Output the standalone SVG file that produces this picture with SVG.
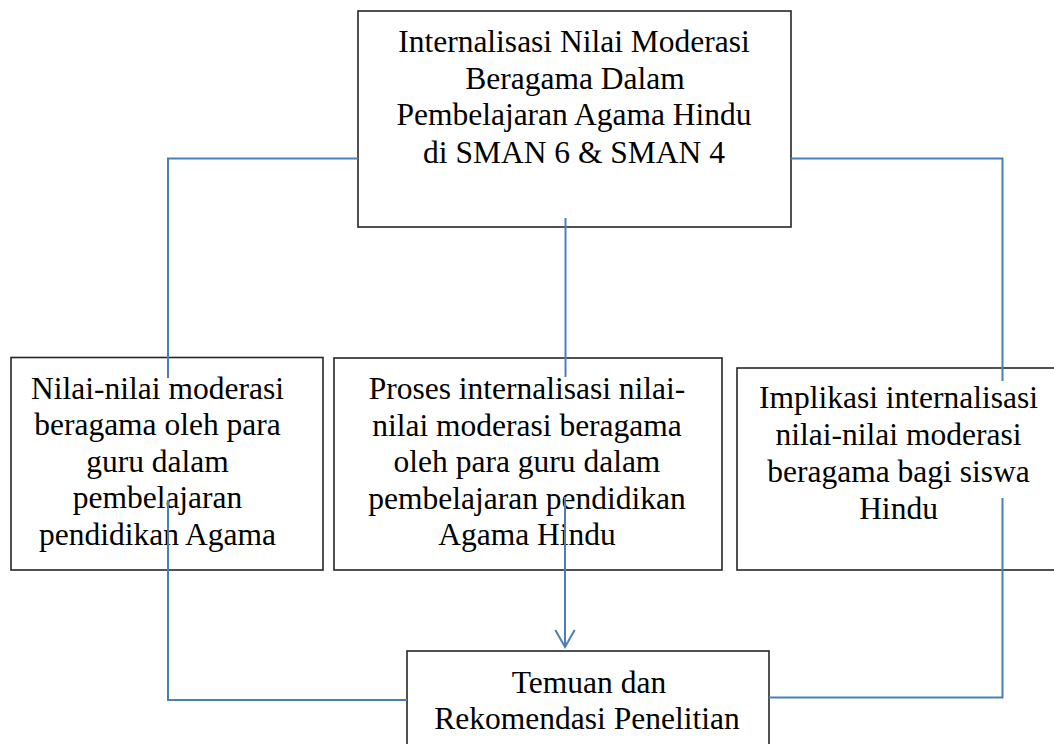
<svg xmlns="http://www.w3.org/2000/svg" width="1054" height="744" viewBox="0 0 1054 744">
<style>
.box{fill:#ffffff;stroke:#262626;stroke-width:1.6}
.t{font-family:"Liberation Serif","Times New Roman",serif;font-size:31.5px;fill:#000;text-anchor:middle}
.c{fill:none;stroke:#4A7EBB;stroke-width:2}
</style>
<defs>
<marker id="arr" viewBox="-19 -12 21 24" refX="0" refY="0" markerWidth="21" markerHeight="24" markerUnits="userSpaceOnUse" orient="auto">
<path d="M-17,-9.7 L0,0 L-17,9.7" fill="none" stroke="#4A7EBB" stroke-width="2"/>
</marker>
</defs>
<rect width="1054" height="744" fill="#ffffff"/>
<g id="node-top">
<rect class="box" x="358" y="11" width="433" height="216"/>
<text class="t" x="574" y="52">Internalisasi Nilai Moderasi</text>
<text class="t" x="575" y="88.5">Beragama Dalam</text>
<text class="t" x="574" y="125">Pembelajaran Agama Hindu</text>
<text class="t" x="574" y="162.5">di SMAN 6 &amp; SMAN 4</text>
</g>
<g id="node-left">
<rect class="box" x="11" y="357.5" width="312" height="212.5"/>
<text class="t" x="157.5" y="398.5">Nilai-nilai moderasi</text>
<text class="t" x="157.5" y="435">beragama oleh para</text>
<text class="t" x="157.5" y="471.5">guru dalam</text>
<text class="t" x="157.5" y="508">pembelajaran</text>
<text class="t" x="157.5" y="545">pendidikan Agama</text>
</g>
<g id="node-middle">
<rect class="box" x="334" y="358" width="388" height="212"/>
<text class="t" x="527" y="399">Proses internalisasi nilai-</text>
<text class="t" x="527" y="435.5">nilai moderasi beragama</text>
<text class="t" x="527" y="472">oleh para guru dalam</text>
<text class="t" x="527" y="508.5">pembelajaran pendidikan</text>
<text class="t" x="527" y="545">Agama Hindu</text>
</g>
<g id="node-right">
<rect class="box" x="737" y="368" width="330" height="202"/>
<text class="t" x="898.5" y="408">Implikasi internalisasi</text>
<text class="t" x="898.5" y="445">nilai-nilai moderasi</text>
<text class="t" x="898.5" y="482">beragama bagi siswa</text>
<text class="t" x="898.5" y="519">Hindu</text>
</g>
<g id="node-bottom">
<rect class="box" x="407" y="651" width="362" height="110"/>
<text class="t" x="589" y="692.5">Temuan dan</text>
<text class="t" x="587" y="728.5">Rekomendasi Penelitian</text>
</g>
<g id="connectors">
<polyline class="c" points="358,158.5 168,158.5 168,378"/>
<polyline class="c" points="791,158.5 1002.5,158.5 1002.5,381"/>
<line class="c" x1="565.5" y1="218" x2="565.5" y2="377"/>
<line class="c" x1="565" y1="497" x2="565" y2="647" marker-end="url(#arr)"/>
<polyline class="c" points="168,500 168,700 407,700"/>
<polyline class="c" points="1002.5,498 1002.5,697.5 769,697.5"/>
</g>
</svg>
